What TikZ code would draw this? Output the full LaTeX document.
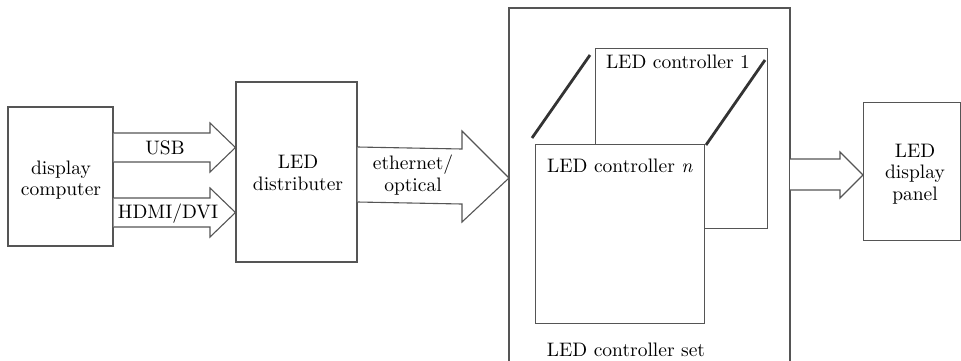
\documentclass[tikz,border=0pt]{standalone}
\usepackage{fontspec}
\setmainfont{lmroman10-regular}[Extension=.otf, ItalicFont=lmroman10-italic, BoldFont=lmroman10-bold]
\definecolor{linec}{HTML}{555555}
\definecolor{thickc}{HTML}{333333}
\definecolor{textc}{HTML}{000000}
\begin{document}
\begin{tikzpicture}[x=1pt,y=-1pt,
  box/.style={draw=linec, line width=1.1pt, fill=white, inner sep=0pt, align=center, text=textc},
  lbl/.style={inner sep=0pt, align=center, text=textc},
  blockarrow/.style={draw=linec, line width=1.1pt, fill=white, line join=miter},
  edgeline/.style={draw=thickc, line width=2.8pt},
  every node/.style={font=\fontsize{19.5}{21.5}\selectfont}]
\useasboundingbox (0,0) rectangle (961,360);
% boxes
\node[box, minimum width=105pt, minimum height=139pt] (dc) at (60.5,176.5) {};
\node[lbl] (dctext) at (61,180) {display\\computer};
\node[box, minimum width=121pt, minimum height=180pt] (dist) at (296.5,172) {};
\node[lbl] (disttext) at (298,173) {LED\\distributer};
\node[box, minimum width=97pt, minimum height=138pt, anchor=north west] (panel) at (863,102) {};
\node[lbl] (paneltext) at (915,174) {LED\\display\\panel};
% controller set
\coordinate (setbl) at (509,361);
\coordinate (settl) at (509,8);
\coordinate (settr) at (790,8);
\coordinate (setbr) at (790,361);
\draw[linec, line width=1.1pt] (setbl) -- (settl) -- (settr) -- (setbr);
\node[lbl] (settext) at (626,350) {LED controller set};
% controllers
\node[box, minimum width=172pt, minimum height=180pt, anchor=north west] (c1) at (595,48) {};
\node[lbl] (c1text) at (678,62) {LED controller 1};
\node[box, minimum width=169pt, minimum height=179pt, anchor=north west] (cn) at (535,144) {};
\node[lbl] (cntext) at (620,166) {LED controller \textit{n}};
\coordinate (e1a) at (532,138);
\coordinate (e1b) at (590,55);
\coordinate (e2a) at (706,145);
\coordinate (e2b) at (765,60);
\draw[edgeline] (e1a) -- (e1b);
\draw[edgeline] (e2a) -- (e2b);
% USB arrow
\draw[blockarrow] (dc.east |- 0,133) -- (210,133) -- (210,123) -- (dist.west |- 0,147.5) -- (210,172) -- (210,162) -- (dc.east |- 0,162);
\node[lbl] (usb) at (165,148) {USB};
% HDMI arrow
\draw[blockarrow] (dc.east |- 0,198) -- (210,198) -- (210,188) -- (dist.west |- 0,212.5) -- (210,237) -- (210,227) -- (dc.east |- 0,227);
\node[lbl] (hdmi) at (168,214) {HDMI/DVI};
% ethernet arrow
\draw[blockarrow] (dist.east |- 0,147) -- (462,149) -- (462,131) -- (settl |- 0,178) -- (462,222) -- (462,204) -- (dist.east |- 0,202);
\node[lbl] (eth) at (413,175) {ethernet/\\optical};
% output arrow
\draw[blockarrow] (settr |- 0,159) -- (840,159) -- (840,152) -- (panel.west |- 0,175) -- (840,198) -- (840,190) -- (settr |- 0,190);
\end{tikzpicture}
\end{document}
